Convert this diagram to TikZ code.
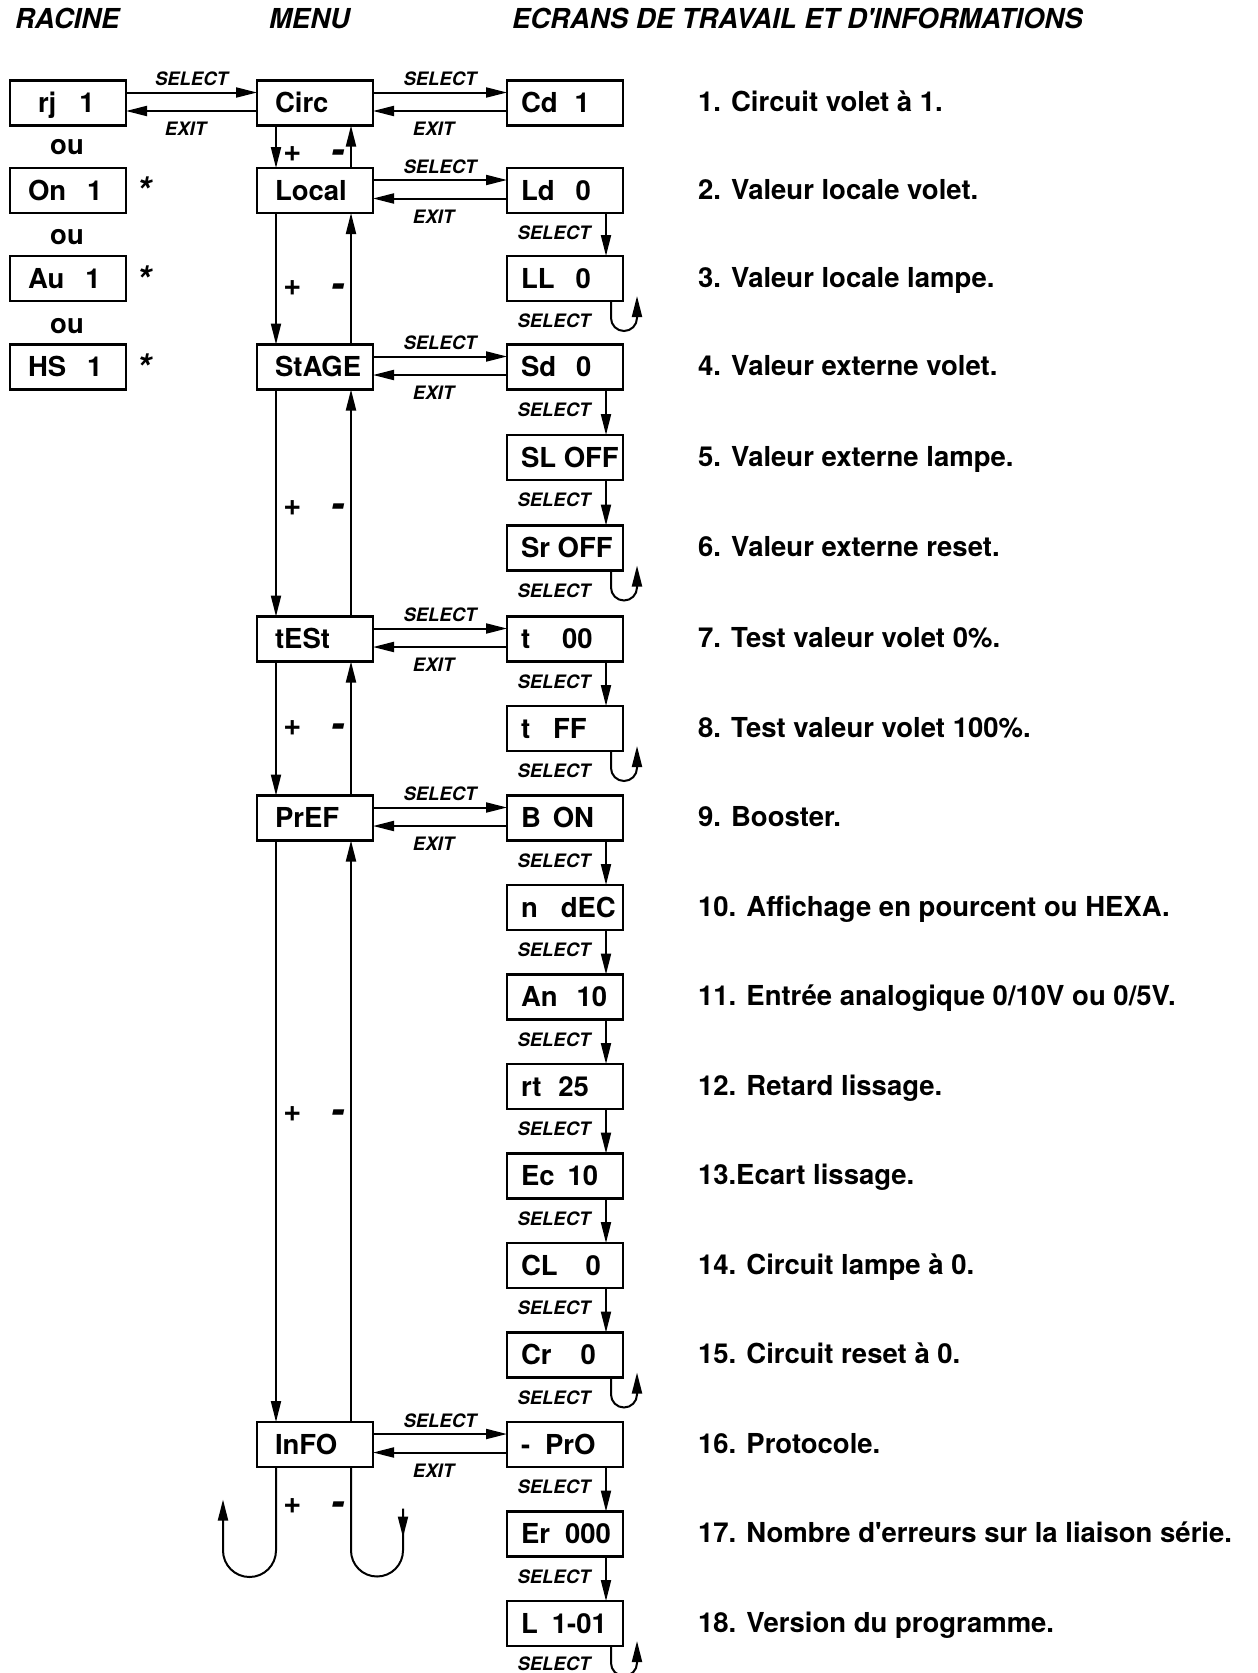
\documentclass[tikz,border=0pt]{standalone}
\usepackage{fontspec}
\setmainfont{TeX Gyre Heros}
\usetikzlibrary{arrows.meta}
\newcommand\bigf{\fontsize{27.5}{30}\selectfont\bfseries}
\newcommand\bigif{\fontsize{27.5}{30}\selectfont\bfseries\itshape}
\newcommand\smf{\fontsize{18.5}{20}\selectfont\bfseries\itshape}
\newcommand\minf{\fontsize{40}{40}\selectfont\bfseries\itshape}
\tikzset{
  every node/.style={inner sep=0pt, outer sep=0pt},
  box/.style={draw, line width=2.2pt, minimum width=116pt, minimum height=45pt,
              text height=19.8pt, text depth=0pt, font=\bigf},
  arr/.style={line width=2pt, -{Triangle[length=21pt,width=10pt]}},
  ln/.style={line width=2pt},
  sel/.style={font=\smf, text height=13.3pt, text depth=0pt},
  desc/.style={anchor=west, font=\bigf, text height=19.8pt, text depth=0pt},
  hdr/.style={anchor=west, font=\bigif, text height=19.8pt, text depth=0pt},
  ou/.style={font=\bigf},
  star/.style={font=\fontsize{38}{38}\selectfont\bfseries\itshape},
  plus/.style={font=\fontsize{31}{31}\selectfont\bfseries\itshape},
  minus/.style={font=\minf},
}
\begin{document}
\begin{tikzpicture}[x=1pt,y=-1pt]
\useasboundingbox (0,0) rectangle (1258,1673);
% headers
\node[hdr] (hRacine) at (15,19) {RACINE};
\node[hdr] (hMenu) at (269,19) {MENU};
\node[hdr] (hEcr) at (512,19) {ECRANS DE TRAVAIL ET D\textquotesingle INFORMATIONS};

% root column
\node[box] (r1) at (68,103) {\makebox[80pt][l]{\hspace{10pt}rj\hspace{23pt}1}};
\node[box] (r2) at (68,190.5) {\makebox[80pt][l]{On\hspace{21pt}1}};
\node[box] (r3) at (68,278.5) {\makebox[80pt][l]{Au\hspace{21pt}1}};
\node[box] (r4) at (68,367) {\makebox[80pt][l]{HS\hspace{21pt}1}};
\node[ou] (ou1) at (67,147) {ou};
\node[ou] (ou2) at (67,237) {ou};
\node[ou] (ou3) at (67,326.5) {ou};
\node[star] (st2) at (144,191) {*};
\node[star] (st3) at (144,279.5) {*};
\node[star] (st4) at (144,368) {*};

% menu column
\node[box] (m1) at (315,103) {\makebox[80pt][l]{Circ}};
\node[box] (m2) at (315,190.5) {\makebox[80pt][l]{Local}};
\node[box] (m4) at (315,367) {\makebox[80pt][l]{StAGE}};
\node[box] (m7) at (315,639) {\makebox[80pt][l]{tESt}};
\node[box] (m9) at (315,818) {\makebox[80pt][l]{PrEF}};
\node[box] (m16) at (315,1444.5) {\makebox[80pt][l]{InFO}};

% screen column
\node[box] (s1) at (565,103) {\makebox[88pt][l]{Cd\hspace{17pt}1}};
\node[box] (s2) at (565,190.5) {\makebox[88pt][l]{Ld\hspace{21pt}0}};
\node[box] (s3) at (565,278.5) {\makebox[88pt][l]{LL\hspace{21pt}0}};
\node[box] (s4) at (565,367) {\makebox[88pt][l]{Sd\hspace{20pt}0}};
\node[box] (s5) at (565,457.5) {\makebox[88pt][l]{SL OFF}};
\node[box] (s6) at (565,548) {\makebox[88pt][l]{Sr OFF}};
\node[box] (s7) at (565,639) {\makebox[88pt][l]{t\hspace{32pt}00}};
\node[box] (s8) at (565,728.5) {\makebox[88pt][l]{t\hspace{23pt}FF}};
\node[box] (s9) at (565,818) {\makebox[88pt][l]{B\hspace{12pt}ON}};
\node[box] (s10) at (565,907.5) {\makebox[88pt][l]{n\hspace{23pt}dEC}};
\node[box] (s11) at (565,997) {\makebox[88pt][l]{An\hspace{19pt}10}};
\node[box] (s12) at (565,1086.5) {\makebox[88pt][l]{rt\hspace{17pt}25}};
\node[box] (s13) at (565,1176) {\makebox[88pt][l]{Ec\hspace{13pt}10}};
\node[box] (s14) at (565,1265.5) {\makebox[88pt][l]{CL\hspace{28pt}0}};
\node[box] (s15) at (565,1355) {\makebox[88pt][l]{Cr\hspace{29pt}0}};
\node[box] (s16) at (565,1444.5) {\makebox[88pt][l]{-\hspace{15pt}PrO}};
\node[box] (s17) at (565,1534) {\makebox[88pt][l]{Er\hspace{15pt}000}};
\node[box] (s18) at (565,1623.5) {\makebox[88pt][l]{L\hspace{14pt}1-01}};

% descriptions
\foreach \n/\y/\t in {
  1/103/{1. Circuit volet à 1.},
  2/190.5/{2. Valeur locale volet.},
  3/278.5/{3. Valeur locale lampe.},
  4/367/{4. Valeur externe volet.},
  5/457.5/{5. Valeur externe lampe.},
  6/548/{6. Valeur externe reset.},
  7/639/{7. Test valeur volet 0\%.},
  8/728.5/{8. Test valeur volet 100\%.},
  9/818/{9. Booster.},
  10/907.5/{10. Affichage en pourcent ou HEXA.},
  11/997/{11. Entrée analogique 0/10V ou 0/5V.},
  12/1086.5/{12. Retard lissage.},
  13/1176/{13.Ecart lissage.},
  14/1265.5/{14. Circuit lampe à 0.},
  15/1355/{15. Circuit reset à 0.},
  16/1444.5/{16. Protocole.},
  17/1534/{17. Nombre d\textquotesingle erreurs sur la liaison série.},
  18/1623.5/{18. Version du programme.}}
  \node[desc] (d\n) at (698,\y-1) {\t};

% root <-> menu
\draw[arr] ([yshift=10.5pt]r1.east) -- ([yshift=10.5pt]m1.west);
\draw[arr] ([yshift=-8pt]m1.west) -- ([yshift=-8pt]r1.east);
\node[sel] (lsr) at (191.5,79) {SELECT};
\node[sel] (ler) at (185.5,129) {EXIT};

% menu <-> screens
\foreach \i/\y in {1/103, 2/190.5, 4/367, 7/639, 9/818, 16/1444.5} {
  \draw[arr] ([yshift=10.5pt]m\i.east) -- ([yshift=10.5pt]s\i.west);
  \draw[arr] ([yshift=-8pt]s\i.west) -- ([yshift=-8pt]m\i.east);
  \node[sel] (ls\i) at (440,\y-24) {SELECT};
  \node[sel] (le\i) at (433.5,\y+26) {EXIT};
}

% menu verticals
\foreach \a/\b in {1/2, 2/4, 4/7, 7/9, 9/16} {
  \draw[arr] ([xshift=-39pt]m\a.south) -- ([xshift=-39pt]m\b.north);
  \draw[arr] ([xshift=36pt]m\b.north) -- ([xshift=36pt]m\a.south);
}
\foreach \k/\y in {1/154, 2/288, 4/508, 7/728, 9/1114, 16/1506} {
  \node[plus] (pl\k) at (292,\y) {+};
  \node[minus] (mn\k) at (338,\y+3) {-};
}

% loops under InFO
\draw[arr] ([xshift=-39pt]m16.south) -- ++(0,83.5)
   arc[start angle=360, end angle=180, radius=26.5pt] -- ++(0,-51);
\draw[ln] ([xshift=36pt]m16.south) -- ++(0,83.5)
   arc[start angle=180, end angle=360, radius=26pt] -- ++(0,-42) coordinate (rl);
\draw[arr] (rl) -- ++(0,29);

% screen verticals
\foreach \a/\b in {2/3, 4/5, 5/6, 7/8, 9/10, 10/11, 11/12, 12/13, 13/14, 14/15, 16/17, 17/18} {
  \draw[arr] ([xshift=41pt]s\a.south) -- ([xshift=41pt]s\b.north);
}
% end loops
\foreach \i in {3, 6, 8, 15, 18} {
  \draw[arr] ([xshift=46pt]s\i.south) -- ++(0,17)
     arc[start angle=180, end angle=360, radius=13pt] -- ++(0,-22);
}
% select labels in screen column
\foreach \i/\y in {2/190.5, 3/278.5, 4/367, 5/457.5, 6/548, 7/639, 8/728.5, 9/818,
   10/907.5, 11/997, 12/1086.5, 13/1176, 14/1265.5, 15/1355, 16/1444.5, 17/1534, 18/1621} {
  \node[sel] (sl\i) at (554,\y+42.5) {SELECT};
}
\end{tikzpicture}
\end{document}
